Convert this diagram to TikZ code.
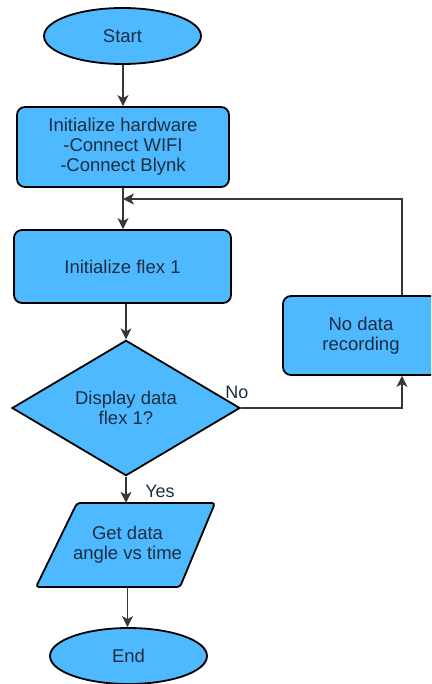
\documentclass[tikz,border=0pt]{standalone}
\usepackage{fontspec}
\setmainfont{Liberation Sans}
\usetikzlibrary{shapes.geometric,arrows.meta,calc}
\definecolor{boxfill}{RGB}{79,185,255}
\definecolor{txt}{RGB}{28,45,66}
\definecolor{wire}{RGB}{55,55,55}
\begin{document}
\begin{tikzpicture}[x=1pt,y=-1pt,
  every node/.style={font=\fontsize{18.5}{20}\selectfont, text=txt, align=center},
  shapebase/.style={draw=black, line width=1.8pt, fill=boxfill, inner sep=0pt},
  terminal/.style={shapebase, ellipse, minimum width=157pt, minimum height=56pt},
  process/.style={shapebase, rectangle, rounded corners=8pt},
  decision/.style={shapebase, diamond, minimum width=228pt, minimum height=135pt},
  flow/.style={draw=wire, line width=1.2pt, -{Stealth[length=11pt,width=11pt,inset=3pt]}},
  tag/.style={font=\fontsize{18}{20}\selectfont}
]
\useasboundingbox (0,0) rectangle (431,684);
\begin{scope}
\clip (0,0) rectangle (431,684);

% nodes
\node[terminal] (start) at (122.5,36) {Start};
\node[process, minimum width=212pt, minimum height=80pt] (hw) at (123,147)
  {Initialize hardware\\-Connect WIFI\\-Connect Blynk};
\node[process, minimum width=217pt, minimum height=73pt] (flex) at (122.5,266.5)
  {Initialize flex 1};
\node[decision] (dec) at (126,408) {Display data\\flex 1?};
\node[process, minimum width=156pt, minimum height=79pt] (nodata) at (361,335.5)
  {No data\\recording};

% input/output parallelogram
\draw[draw=black, line width=1.8pt, fill=boxfill, rounded corners=3pt]
  (77,503) -- (215,503) -- (180,587) -- (36,587) -- cycle;
\node[minimum height=84pt, inner sep=0pt] (get) at (127.5,545) {Get data\\angle vs time};

\node[terminal] (end) at (128.5,656) {End};

% helper points for the loop-back path
\coordinate (loopx) at (402,0);
\coordinate (merge) at (123,199);

% connectors
\draw[flow] (start.south -| hw.north) -- (hw.north);
\draw[flow] (hw.south) -- (hw.south |- flex.north);
\draw[flow] (flex.south -| dec.north) -- (dec.north);
\draw[flow] (dec.east) -| (nodata.south -| loopx);
\draw[flow] (nodata.north -| loopx) |- (merge);
\draw[flow] (dec.south) -- (dec.south |- get.north);
\draw[flow] (get.south) -- (get.south |- end.north);

% branch labels
\node[tag] at (237,392) {No};
\node[tag] at (160,491) {Yes};
\end{scope}
\end{tikzpicture}
\end{document}
